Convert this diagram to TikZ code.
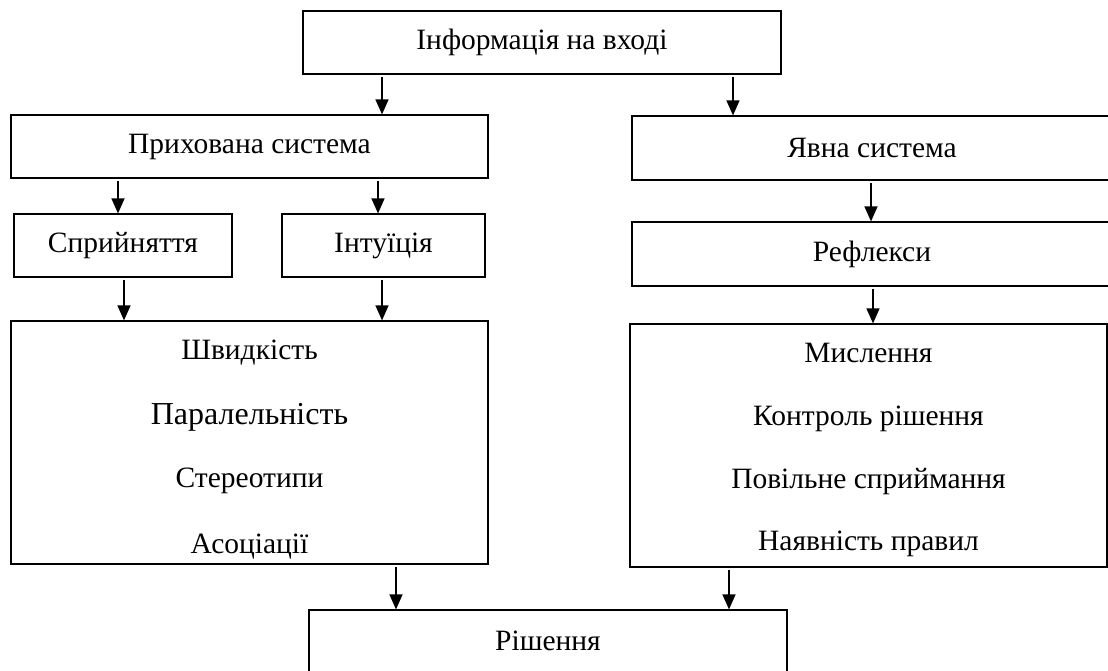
\documentclass[tikz,border=0pt]{standalone}
\usepackage{fontspec}
\setmainfont{Liberation Serif}
\usetikzlibrary{arrows.meta}

\tikzset{
  block/.style={draw, line width=1.2pt, inner sep=0pt, font=\fontsize{29.5}{34}\selectfont},
  arrow/.style={line width=1.3pt, -{Triangle[length=15pt,width=13pt]}, shorten <=2pt},
  item/.style={anchor=base, font=\fontsize{29.5}{34}\selectfont}
}

\begin{document}
\begin{tikzpicture}[x=1pt,y=-1pt]
    \clip (0,0) rectangle (1108,671);

    % top and second level
    \node[block, minimum width=478pt, minimum height=63pt] (info) at (542,42.5) {Інформація на вході};
    \node[block, minimum width=477pt, minimum height=63pt] (hidden) at (249.5,146.5) {Прихована система};
    \node[block, minimum width=480pt, minimum height=64pt] (explicit) at (872,148) {Явна система};

    % third level
    \node[block, minimum width=218pt, minimum height=63pt] (percept) at (123,245.5) {Сприйняття};
    \node[block, minimum width=203pt, minimum height=63pt] (intuit) at (383.5,245.5) {Інтуїція};
    \node[block, minimum width=480pt, minimum height=64pt] (reflex) at (872,254) {Рефлекси};

    % big boxes
    \node[block, minimum width=477pt, minimum height=243pt] (fast) at (249.5,442.5) {};
    \node[block, minimum width=477pt, minimum height=243pt] (slow) at (868.5,445.5) {};
    \node[item] (fast1) at (249.5,359) {Швидкість};
    \node[item, font=\fontsize{32}{36}\selectfont] (fast2) at (249.5,424) {Паралельність};
    \node[item] (fast3) at (249.5,487) {Стереотипи};
    \node[item] (fast4) at (249.5,553) {Асоціації};
    \node[item] (slow1) at (868.5,362) {Мислення};
    \node[item] (slow2) at (868.5,425) {Контроль рішення};
    \node[item] (slow3) at (868.5,488) {Повільне сприймання};
    \node[item] (slow4) at (868.5,550) {Наявність правил};

    \node[block, minimum width=478pt, minimum height=62pt] (decision) at (548,641) {Рішення};

    % connectors
    \foreach \a/\b/\x in {info/hidden/382, info/explicit/733, hidden/percept/118,
        hidden/intuit/378, explicit/reflex/871, percept/fast/124, intuit/fast/382,
        reflex/slow/873, fast/decision/396, slow/decision/729}
        \draw[arrow] (\a.south -| \x,0) -- (\b.north -| \x,0);
\end{tikzpicture}
\end{document}
